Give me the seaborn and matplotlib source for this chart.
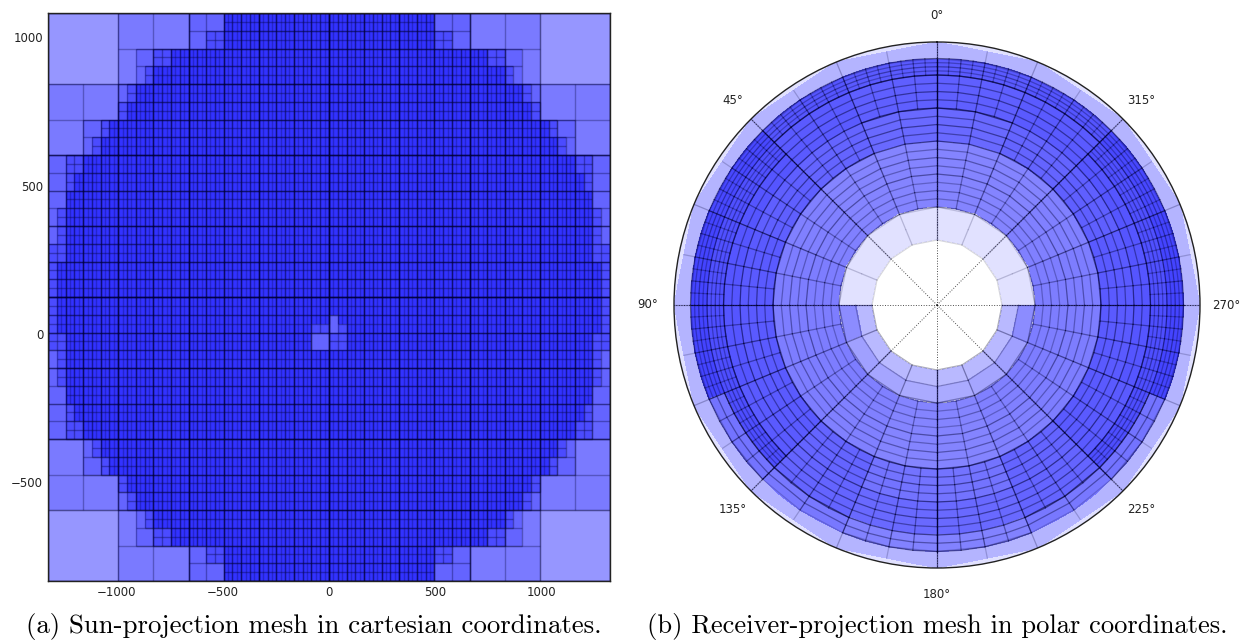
import numpy as np
import matplotlib
matplotlib.use('Agg')
import matplotlib.pyplot as plt
from matplotlib.collections import LineCollection
import seaborn as sns

# Left plot: where each refinement depth starts, per row of the top-left quadrant
# (columns counted on the 128 wide grid, one row = 4 grid rows)
start_d4 = [16, 16, 16, 16, 0, 0, 0, 0, 0, 0, 0, 0, 0, 0, 0, 0]
start_d5 = [32, 32, 20, 20, 16, 16, 8, 8, 0, 0, 0, 0, 0, 0, 0, 0]
start_d6 = [40, 36, 24, 22, 18, 16, 12, 10, 4, 4, 4, 2, 2, 0, 0, 0]
start_d7 = [40, 40, 28, 24, 20, 18, 14, 12, 8, 6, 4, 4, 4, 4, 2, 2]
depth_shade = {3: 150, 4: 122, 5: 100, 6: 75, 7: 50}
level_alpha = [0.3, 0.3, 0.3, 0.3, 0.3, 0.32, 0.34, 0.26]

# small gap in the middle of the left mesh
hole_left = [60, 64, 64, 60, 66]
hole_right = [64, 66, 68, 64, 68]
hole_top = [72, 68, 72, 70, 70]
hole_bottom = [76, 72, 76, 72, 72]
hole_depth = [5, 5, 6, 6, 6]

x_range = (-1325, 1325)
y_range = (-832, 1081)
x_ticks = [-1000, -500, 0, 500, 1000]
y_ticks = [-500, 0, 500, 1000]

# Right plot: half bands (rows, inside to outside), 22.5 degree sectors from 0 to 180
shade = [
    [225, 225, 225, 225, 185, 185, 185, 185],
    [225, 225, 225, 225, 140, 160, 165, 170],
    [132, 132, 128, 125, 125, 125, 128, 132],
    [132, 132, 128, 125, 125, 125, 128, 132],
    [132, 132, 128, 125, 125, 125, 128, 132],
    [132, 132, 128, 125, 125, 125, 128, 132],
    [105, 100, 95, 90, 90, 90, 100, 115],
    [105, 100, 95, 90, 90, 90, 100, 115],
    [95, 90, 85, 85, 85, 90, 100, 105],
    [95, 90, 80, 80, 78, 78, 100, 105],
    [90, 85, 72, 68, 68, 115, 120, 130],
    [180, 180, 180, 180, 180, 180, 180, 180],
]
theta_div = [
    [1, 1, 1, 1, 1, 1, 1, 1],
    [1, 1, 1, 1, 1, 1, 1, 1],
    [2, 2, 2, 2, 2, 2, 2, 2],
    [2, 2, 2, 2, 2, 2, 2, 2],
    [2, 2, 2, 2, 2, 2, 2, 2],
    [2, 2, 2, 2, 2, 2, 2, 2],
    [2, 4, 4, 4, 4, 4, 4, 4],
    [2, 4, 4, 4, 4, 4, 4, 4],
    [4, 4, 4, 4, 4, 4, 4, 4],
    [4, 4, 8, 8, 8, 8, 4, 4],
    [8, 8, 8, 8, 8, 4, 2, 4],
    [2, 2, 2, 2, 2, 2, 2, 2],
]
ring_div = [
    [1, 1, 1, 1, 1, 1, 1, 1],
    [1, 1, 1, 1, 1, 1, 1, 1],
    [2, 2, 2, 2, 2, 2, 2, 2],
    [2, 2, 2, 2, 2, 2, 2, 2],
    [2, 2, 2, 2, 2, 2, 2, 2],
    [2, 2, 2, 2, 2, 2, 2, 2],
    [2, 2, 2, 2, 2, 2, 2, 2],
    [2, 2, 2, 2, 2, 2, 2, 2],
    [2, 2, 2, 2, 2, 2, 2, 2],
    [2, 2, 4, 4, 4, 4, 2, 2],
    [4, 4, 4, 4, 4, 2, 2, 2],
    [1, 1, 1, 1, 1, 1, 1, 1],
]
band_weight_top = [0.3, 0.3, 0.7, 0.7, 0.8, 0.8, 1, 1, 1, 1, 1, 0.4]
band_weight_bottom = [0.6, 0.6, 0.7, 0.7, 0.8, 0.8, 1, 1, 1, 1, 1, 0.4]
hole_r = 65
band_step = 16.5
outer_r = 263
outer_mid_r = 258
angle_labels = [0, 45, 90, 135, 180, 225, 270, 315]

caption_a = '(a) Sun-projection mesh in cartesian coordinates.'
caption_b = '(b) Receiver-projection mesh in polar coordinates.'

sns.set_theme(style='ticks')
plt.rcParams['font.family'] = ['DejaVu Sans']
blues = sns.blend_palette(['#0000ff', '#ffffff'], as_cmap=True)
tick_col = '#222222'

fig = plt.figure(figsize=(12.4, 6.41), dpi=100)

# ---- cartesian mesh ----
ax = fig.add_axes([48 / 1240, 1 - 581 / 641, 562 / 1240, 568 / 641])

depth = np.full((128, 128), 3)
for k in range(16):
    for r in range(k * 4, k * 4 + 4):
        for starts in (start_d4, start_d5, start_d6, start_d7):
            depth[r, starts[k]:64] += 1
depth[:64, 64:] = depth[:64, :64][:, ::-1]
depth[64:, :] = depth[:64, :][::-1, :]
for i in range(len(hole_depth)):
    depth[hole_top[i]:hole_bottom[i], hole_left[i]:hole_right[i]] = hole_depth[i]

cell_shade = np.vectorize(depth_shade.get)(depth)
sns.heatmap(cell_shade, ax=ax, cmap=blues, vmin=0, vmax=255, cbar=False,
            xticklabels=False, yticklabels=False)

# one set of lines per level, they add up where levels share an edge
for level in range(8):
    step = 128 >> level
    segs = set()
    for r in range(0, 128, step):
        for c in range(0, 128, step):
            if depth[r:r + step, c:c + step].max() < level:
                continue
            segs.add((c, r, c, r + step))
            segs.add((c + step, r, c + step, r + step))
            if level < 7:
                segs.add((c, r, c + step, r))
                segs.add((c, r + step, c + step, r + step))
    lines = [[(s[0], s[1]), (s[2], s[3])] for s in segs]
    ax.add_collection(LineCollection(lines, colors='#000033', linewidths=1.0,
                                     alpha=level_alpha[level]))

ax.set_xticks([(v - x_range[0]) / (x_range[1] - x_range[0]) * 128 for v in x_ticks])
ax.set_xticklabels([str(v).replace('-', '\u2212') for v in x_ticks], rotation=0)
ax.set_yticks([(y_range[1] - v) / (y_range[1] - y_range[0]) * 128 for v in y_ticks])
ax.set_yticklabels([str(v).replace('-', '\u2212') for v in y_ticks], rotation=0)
ax.tick_params(direction='in', length=3.5, width=0.7, top=True, right=True, bottom=True, left=True,
               color='#555555', labelsize=8.5, labelcolor=tick_col)
ax.tick_params(axis='x', pad=3.5)
ax.tick_params(axis='y', pad=3.5)
for side in ax.spines.values():
    side.set_visible(True)
    side.set_linewidth(1.0)
    side.set_color('#222222')

# ---- polar mesh ----
pax = fig.add_axes([674 / 1240, 1 - 568 / 641, 526 / 1240, 526 / 641], projection='polar')
pax.set_theta_zero_location('N')
pax.set_facecolor((225 / 255, 225 / 255, 1.0))

shade_arr = np.array(shade)
shade_full = np.hstack([shade_arr, shade_arr[:, ::-1]])
r_edges = hole_r + band_step * np.arange(13)
theta_coarse = np.linspace(0, 2 * np.pi, 17)
theta_fine = np.linspace(0, 2 * np.pi, 65)

pax.pcolormesh(theta_coarse, [r_edges[11], outer_r], shade_full[11:], cmap=blues, vmin=0, vmax=255)
pax.pcolormesh(theta_fine, r_edges[2:12], np.repeat(shade_full[2:11], 4, axis=1),
               cmap=blues, vmin=0, vmax=255)
pax.pcolormesh(theta_coarse, r_edges[:3], shade_full[:2], cmap=blues, vmin=0, vmax=255)
pax.pcolormesh(theta_coarse, [0, hole_r], np.full((1, 16), 255), cmap=blues, vmin=0, vmax=255)

# q counts in steps of 22.5/8 degrees, k counts in steps of band_step/4
q_rad = np.deg2rad(22.5 / 8)
ring_segs = {}
spoke_segs = {}
for h in range(12):
    for s in range(8):
        qstep = 8 // theta_div[h][s]
        kstep = 4 // ring_div[h][s]
        weight = band_weight_top[h] if s < 4 else band_weight_bottom[h]
        for k in range(h * 4, h * 4 + 5, kstep):
            # the top half of the inner ring has no line at half height
            if k == 4 and s < 4:
                continue
            for q in range(s * 8, (s + 1) * 8, qstep):
                ring_segs[(k, q, q + qstep)] = weight
        for q in range(s * 8, s * 8 + 9, qstep):
            spoke_segs[(q, h)] = weight


def ring_alpha(k):
    if k % 8 == 0:
        return 0.55
    if k % 4 == 0:
        return 0.48
    if k % 2 == 0:
        return 0.4
    return 0.3


def spoke_alpha(q):
    if q % 16 == 0:
        return 0.8
    if q % 8 == 0:
        return 0.65
    if q % 4 == 0:
        return 0.5
    if q % 2 == 0:
        return 0.4
    return 0.3


for side in (1, -1):
    for (k, q1, q2), weight in ring_segs.items():
        r = hole_r + band_step / 4 * k
        if k == 48:
            continue
        pax.plot([side * q1 * q_rad, side * q2 * q_rad], [r, r], color='#000033', lw=0.9,
                 alpha=ring_alpha(k) * weight, zorder=3)
    for (q, h), weight in spoke_segs.items():
        r1 = r_edges[h]
        r2 = r_edges[h + 1]
        if h == 11:
            r2 = outer_r if q % 8 == 0 else outer_mid_r
        pax.plot([side * q * q_rad] * 2, [r1, r2], color='#000033', lw=0.9,
                 alpha=spoke_alpha(q) * weight, zorder=3)

pax.set_ylim(0, outer_r)
pax.set_yticks([])
pax.set_xticks(np.deg2rad(angle_labels))
pax.set_xticklabels([])
pax.xaxis.grid(True, color='black', linestyle=':', linewidth=0.7, alpha=0.7)
pax.set_axisbelow(False)
pax.spines['polar'].set_linewidth(1.0)
pax.spines['polar'].set_color('#222222')
for a in angle_labels:
    pax.text(np.deg2rad(a), outer_r * 1.1, f'{a}\u00b0', ha='center', va='center',
             fontsize=8.5, color=tick_col, clip_on=False)

fig.text(314 / 1240, 1 - 627 / 641, caption_a, family='cmr10', fontsize=19.3, color='black',
         ha='center', va='center')
fig.text(937.5 / 1240, 1 - 627 / 641, caption_b, family='cmr10', fontsize=19.1, color='black',
         ha='center', va='center')

fig.savefig('out.png', dpi=100)
